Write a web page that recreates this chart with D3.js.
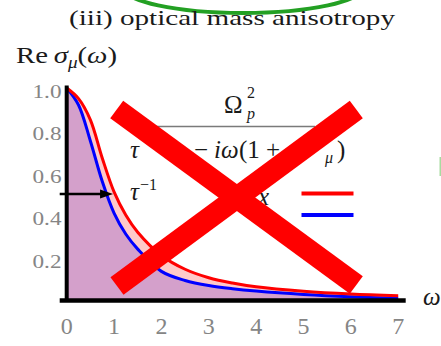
<!DOCTYPE html>
<html>
<head>
<meta charset="utf-8">
<script src="https://cdn.jsdelivr.net/npm/d3@7"></script>
<style>
  html, body { margin: 0; padding: 0; background: #fff; }
  svg { display: block; }
  text { font-family: "Liberation Serif", "DejaVu Serif", serif; }
</style>
</head>
<body>
<svg id="chart" width="441" height="346"></svg>
<script>
// Frequency grid and the two conductivity components (normalised to 1 at ω = 0)
const omega  = [0, 0.25, 0.5, 0.75, 1, 1.25, 1.5, 2, 2.5, 3, 3.5, 4, 5, 6, 7];
const sigmaX = [1.0, 0.95, 0.85, 0.67, 0.51, 0.40, 0.32, 0.21, 0.145, 0.105, 0.08, 0.062, 0.041, 0.028, 0.02];
const sigmaZ = [1.0, 0.92, 0.75, 0.56, 0.41, 0.31, 0.24, 0.135, 0.092, 0.068, 0.053, 0.042, 0.026, 0.015, 0.008];
const xTicks = [0, 1, 2, 3, 4, 5, 6, 7];
const yTicks = [0.2, 0.4, 0.6, 0.8, 1.0];
const halfWidth = 1;      // τ^-1, where the x-component drops to one half
const halfValue = 0.5;

const svg = d3.select("#chart");
const x = d3.scaleLinear().domain([0, 7]).range([66.7, 398.2]);
const y = d3.scaleLinear().domain([0, 1]).range([300, 88]);

const ptsX = omega.map((w, i) => [w, sigmaX[i]]);
const ptsZ = omega.map((w, i) => [w, sigmaZ[i]]);

// decorative green outline at the top
svg.append("ellipse")
  .attr("cx", 243).attr("cy", -13).attr("rx", 120).attr("ry", 26)
  .attr("fill", "none").attr("stroke", "#23a023").attr("stroke-width", 4);
svg.append("line")
  .attr("x1", 440.5).attr("x2", 440.5).attr("y1", 157).attr("y2", 176)
  .attr("stroke", "#a8dca0").attr("stroke-width", 2);

// title
svg.append("text")
  .attr("x", 69).attr("y", 25)
  .attr("font-size", 22).attr("fill", "#1a1a1a")
  .attr("textLength", 326).attr("lengthAdjust", "spacingAndGlyphs")
  .text("(iii) optical mass anisotropy");

// y-axis title: Re σ_μ(ω)
const yt = svg.append("text").attr("x", 16).attr("y", 63).attr("font-size", 24).attr("fill", "#1a1a1a")
  .attr("textLength", 101).attr("lengthAdjust", "spacingAndGlyphs");
yt.append("tspan").text("Re\u2009");
yt.append("tspan").attr("font-style", "italic").text("σ");
yt.append("tspan").attr("font-style", "italic").attr("font-size", 16).attr("dy", 5).text("μ");
yt.append("tspan").attr("dy", -5).text("(");
yt.append("tspan").attr("font-style", "italic").text("ω");
yt.append("tspan").text(")");

// filled areas: pink below the x-component, purple below the z-component
const curve = d3.curveCatmullRom.alpha(0.5);
const area = d3.area().x(d => x(d[0])).y0(y(0)).y1(d => y(d[1])).curve(curve);
const line = d3.line().x(d => x(d[0])).y(d => y(d[1])).curve(curve);

svg.append("path").attr("d", area(ptsX)).attr("fill", "#ffc9c9");
svg.append("path").attr("d", area(ptsZ)).attr("fill", "#d4a0cb");
svg.append("path").attr("d", line(ptsZ)).attr("fill", "none").attr("stroke", "#0000ff").attr("stroke-width", 3);
svg.append("path").attr("d", line(ptsX)).attr("fill", "none").attr("stroke", "#ff0000").attr("stroke-width", 3);

// axes
svg.append("line")
  .attr("x1", x(0)).attr("x2", x(0)).attr("y1", y(1) - 2.5).attr("y2", y(0) + 2)
  .attr("stroke", "#000").attr("stroke-width", 4);
svg.append("line")
  .attr("x1", x(0) - 7).attr("x2", x(7) + 7.5).attr("y1", y(0) + 0.5).attr("y2", y(0) + 0.5)
  .attr("stroke", "#000").attr("stroke-width", 4.5);

// tick labels
svg.selectAll("text.xt").data(xTicks).join("text")
  .attr("class", "xt")
  .attr("x", d => x(d)).attr("y", 333.5)
  .attr("text-anchor", "middle").attr("font-size", 24).attr("fill", "#858585")
  .text(d => d);
svg.selectAll("text.yt").data(yTicks).join("text")
  .attr("class", "yt")
  .attr("x", 61.5).attr("y", d => y(d) + 10)
  .attr("text-anchor", "end").attr("font-size", 19).attr("fill", "#858585")
  .attr("textLength", 29).attr("lengthAdjust", "spacingAndGlyphs")
  .text(d => d3.format(".1f")(d));

// ω axis label
svg.append("text").attr("x", 423).attr("y", 305)
  .attr("font-size", 25).attr("font-style", "italic").attr("fill", "#1a1a1a").text("ω");

// half-width arrow at σ = 1/2
const arrowY = y(halfValue);
svg.append("line")
  .attr("x1", x(0) - 7).attr("x2", x(halfWidth) - 10).attr("y1", arrowY).attr("y2", arrowY)
  .attr("stroke", "#000").attr("stroke-width", 2.5);
svg.append("path")
  .attr("d", `M${x(halfWidth) - 1},${arrowY} L${x(halfWidth) - 14},${arrowY - 4.5} L${x(halfWidth) - 14},${arrowY + 4.5} Z`)
  .attr("fill", "#000");
const tl = svg.append("text").attr("x", 130).attr("y", 200).attr("font-size", 25).attr("fill", "#1a1a1a");
tl.append("tspan").attr("font-style", "italic").text("τ");
tl.append("tspan").attr("font-size", 16).attr("dy", -10).attr("dx", 1).text("−1");

// Drude formula: Ω_p^2 / (τ^-1 − iω(1 + λ_μ))
const num = svg.append("text").attr("y", 113).attr("font-size", 25).attr("fill", "#1a1a1a");
num.append("tspan").attr("x", 224).text("Ω");
num.append("tspan").attr("x", 247).attr("y", 119).attr("font-size", 16).attr("font-style", "italic").text("p");
num.append("tspan").attr("x", 247).attr("y", 98).attr("font-size", 16).text("2");
svg.append("line")
  .attr("x1", 130).attr("x2", 315).attr("y1", 126.5).attr("y2", 126.5)
  .attr("stroke", "#7a7a7a").attr("stroke-width", 1.6);
const den = svg.append("text").attr("y", 158).attr("font-size", 25).attr("fill", "#1a1a1a");
den.append("tspan").attr("x", 130).attr("font-style", "italic").text("τ");
den.append("tspan").attr("x", 145).attr("y", 149).attr("font-size", 16).text("−1");
den.append("tspan").attr("x", 194).attr("y", 158).text("−");
den.append("tspan").attr("x", 214).attr("font-style", "italic").text("iω");
den.append("tspan").attr("x", 239).text("(1 +");
den.append("tspan").attr("x", 298).attr("font-style", "italic").text("λ");
den.append("tspan").attr("x", 325).attr("y", 163).attr("font-size", 16).attr("font-style", "italic").text("μ");
den.append("tspan").attr("x", 337).attr("y", 158).text(")");

// legend
const legend = [
  { label: "x", color: "#ff0000", y: 193.5, size: 25, dy: 11.5 },
  { label: "z", color: "#0000ff", y: 215, size: 19, dy: 13 }
];
legend.forEach(d => {
  svg.append("line")
    .attr("x1", 301.5).attr("x2", 353.5).attr("y1", d.y).attr("y2", d.y)
    .attr("stroke", d.color).attr("stroke-width", 4);
  svg.append("text").attr("x", 269).attr("y", d.y + d.dy)
    .attr("text-anchor", "end").attr("font-size", d.size).attr("font-style", "italic")
    .attr("fill", "#1a1a1a").text(d.label);
});

// red cross overlay
const cross = [
  [[116.7, 109.5], [356.3, 285]],
  [[117, 286], [356.3, 109.5]]
];
cross.forEach(seg => {
  svg.append("line")
    .attr("x1", seg[0][0]).attr("y1", seg[0][1]).attr("x2", seg[1][0]).attr("y2", seg[1][1])
    .attr("stroke", "#ff0000").attr("stroke-width", 22).attr("stroke-linecap", "butt");
});
</script>
</body>
</html>
